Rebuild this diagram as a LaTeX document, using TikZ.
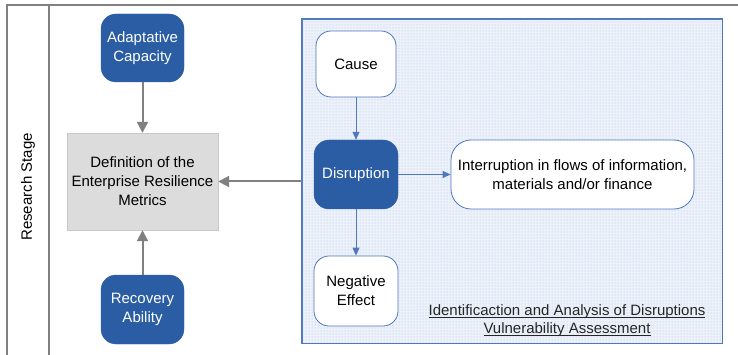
\documentclass[tikz,border=0pt]{standalone}
\usepackage{fontspec}
\setmainfont{Liberation Sans}
\usetikzlibrary{arrows.meta,patterns}
\definecolor{frameGray}{RGB}{128,128,128}
\definecolor{deepBlue}{RGB}{42,93,164}
\definecolor{lineBlue}{RGB}{80,120,190}
\definecolor{dotBlue}{RGB}{178,196,232}
\definecolor{paleBlue}{RGB}{236,241,250}
\definecolor{boxGray}{RGB}{220,220,220}
\definecolor{boxEdge}{RGB}{200,200,200}
% underline drawn just below the baseline
\newsavebox{\ulbox}
\newcommand{\ulinetext}[1]{\leavevmode\sbox{\ulbox}{#1}%
  \rlap{\rule[-2.5pt]{\wd\ulbox}{0.7pt}}\usebox{\ulbox}}
\tikzset{
  darkbox/.style={draw=deepBlue, fill=deepBlue, rounded corners=15pt, text=white,
    align=center, inner sep=0pt, font=\fontsize{15}{19}\selectfont},
  lightbox/.style={draw=lineBlue, line width=0.8pt, fill=white, rounded corners=15pt,
    align=center, inner sep=0pt, font=\fontsize{15}{19}\selectfont},
  greyarrow/.style={draw=frameGray, line width=2pt, -{Triangle[length=11pt,width=11pt]}},
  bluearrow/.style={draw=lineBlue, line width=0.9pt, -{Triangle[length=8pt,width=7pt]}},
}
\begin{document}
\begin{tikzpicture}[x=1pt, y=-1pt]
\useasboundingbox (0,0) rectangle (738,355);

% swimlane frame
\coordinate (fTL) at (7,5);
\coordinate (fTR) at (738,5);
\coordinate (fBL) at (7,355);
\coordinate (sTop) at (49,5);
\coordinate (sBot) at (49,355);
\draw[frameGray, line width=1.5pt] (fBL) -- (fTL) -- (fTR);
\draw[frameGray, line width=1.5pt] (sTop) -- (sBot);
\node[rotate=90, font=\fontsize{15}{19}\selectfont] (lane) at (28,187) {Research Stage};

% shaded region: disruption analysis
\node[draw=lineBlue, line width=0.9pt, fill=paleBlue, minimum width=420pt, minimum height=324pt,
      inner sep=0pt] (vbox) at (512,181) {};
\fill[pattern=dots, pattern color=dotBlue] (vbox.north west) rectangle (vbox.south east);
\draw[lineBlue, line width=0.9pt] (vbox.north west) rectangle (vbox.south east);

% left column
\node[darkbox, minimum width=83pt, minimum height=68pt] (adapt) at (142.5,48) {Adaptative\\Capacity};
\node[draw=boxEdge, fill=boxGray, minimum width=151pt, minimum height=97pt, align=center,
      inner sep=0pt, font=\fontsize{15}{19}\selectfont] (defn) at (142.5,181.5)
      {Definition of the\\Enterprise Resilience\\Metrics};
\node[darkbox, minimum width=83pt, minimum height=69pt] (recov) at (142.5,309.5) {Recovery\\Ability};

% right region nodes
\node[lightbox, minimum width=80pt, minimum height=66pt] (cause) at (356,64) {Cause};
\node[darkbox, minimum width=84pt, minimum height=69pt] (disr) at (356,174.5) {Disruption};
\node[lightbox, rounded corners=20pt, minimum width=243pt, minimum height=69pt] (interr) at (572.5,174.5)
      {Interruption in flows of information,\\materials and/or finance};
\node[lightbox, minimum width=84pt, minimum height=70pt] (neg) at (356,291) {Negative\\Effect};
\node[align=center, font=\fontsize{15}{18}\selectfont, text=black!85] (title) at (567,320.5)
      {\ulinetext{Identificaction and Analysis of Disruptions}\\\ulinetext{Vulnerability Assessment}};

% connectors
\draw[greyarrow] (adapt.south) -- (defn.north);
\draw[greyarrow] (recov.north) -- (defn.south);
\draw[greyarrow] (vbox.west |- defn.east) -- (defn.east);
\draw[bluearrow] (cause.south) -- (disr.north);
\draw[bluearrow] (disr.east) -- (interr.west);
\draw[bluearrow] (disr.south) -- (neg.north);
\end{tikzpicture}
\end{document}
